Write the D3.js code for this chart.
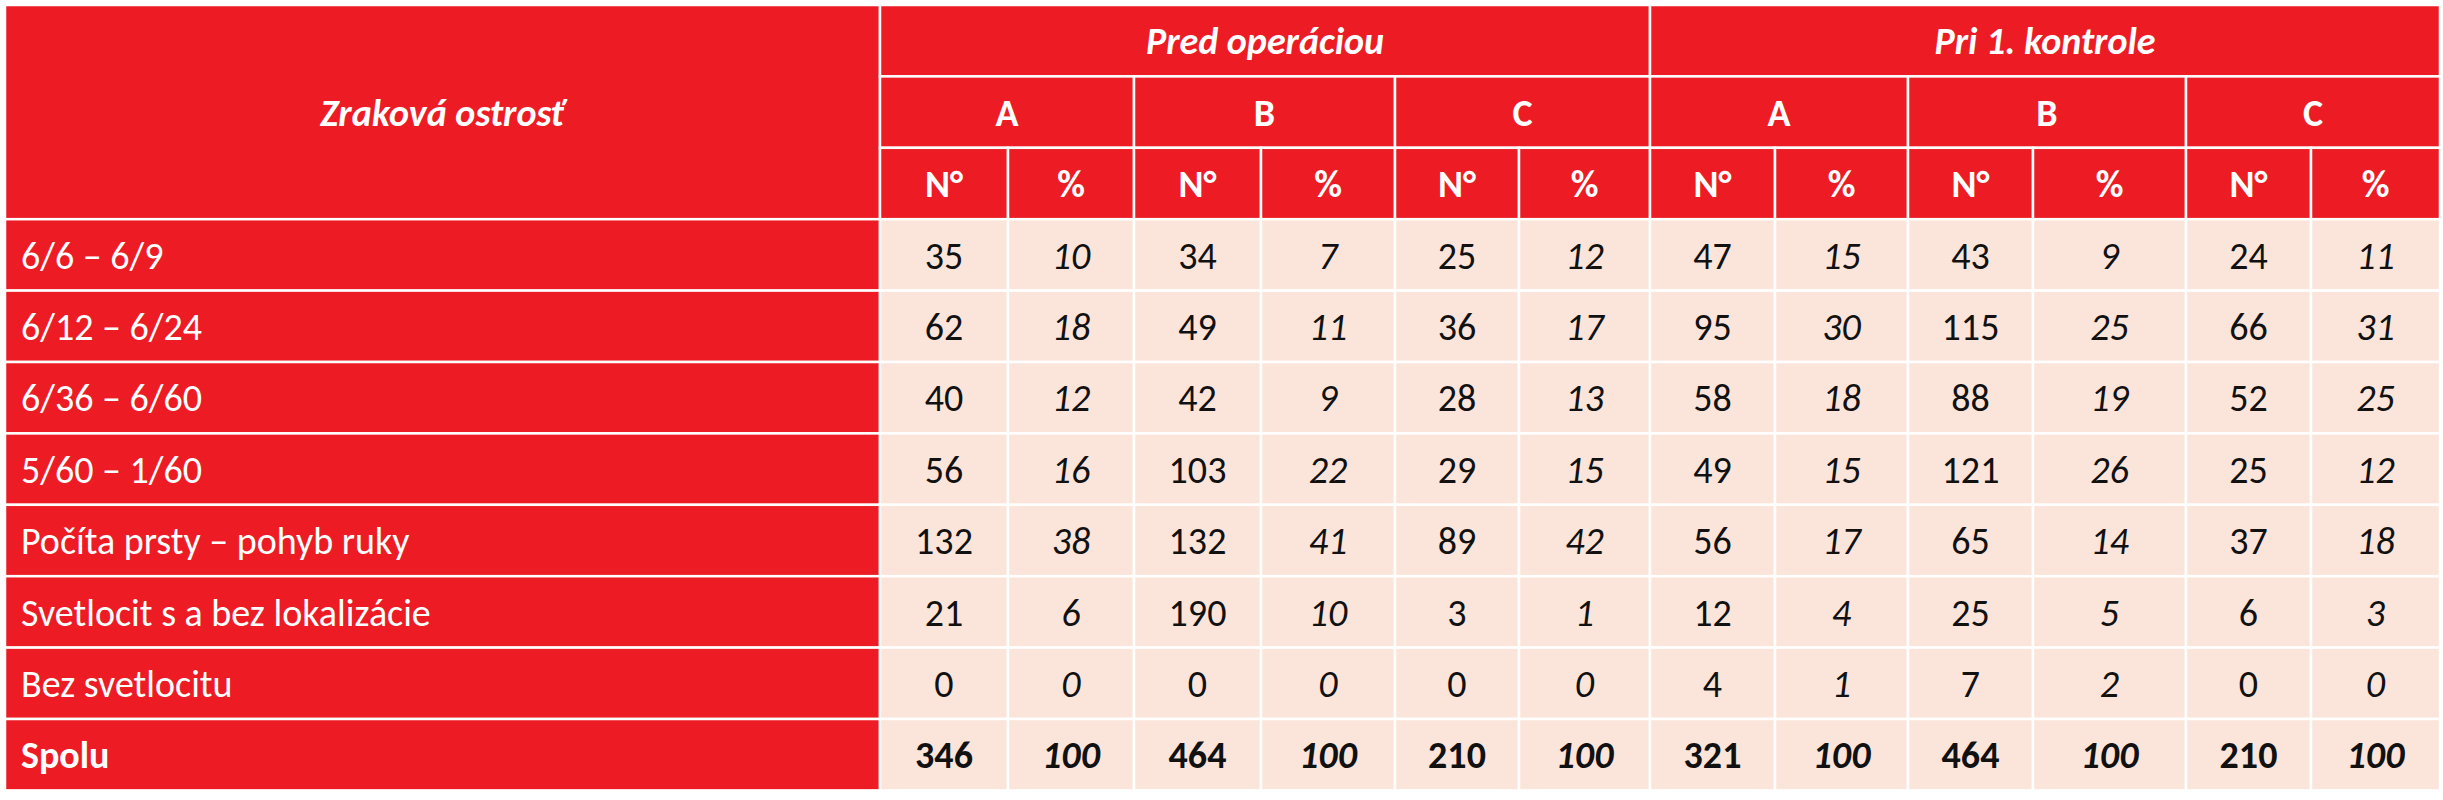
<!DOCTYPE html>
<html><head><meta charset="utf-8">
<script src="https://cdn.jsdelivr.net/npm/d3@7"></script>
<style>body{margin:0;background:#fff}</style></head>
<body><svg id="c" width="2443" height="800"></svg>
<script>
const title = "Zraková ostrosť";
const periods = ["Pred operáciou", "Pri 1. kontrole"];
const groups = ["A", "B", "C"];
const subCols = ["N°", "%"];
const rowLabels = ["6/6 – 6/9","6/12 – 6/24","6/36 – 6/60","5/60 – 1/60","Počíta prsty – pohyb ruky","Svetlocit s a bez lokalizácie","Bez svetlocitu","Spolu"];
const values = [
 [35,10,34,7,25,12,47,15,43,9,24,11],
 [62,18,49,11,36,17,95,30,115,25,66,31],
 [40,12,42,9,28,13,58,18,88,19,52,25],
 [56,16,103,22,29,15,49,15,121,26,25,12],
 [132,38,132,41,89,42,56,17,65,14,37,18],
 [21,6,190,10,3,1,12,4,25,5,6,3],
 [0,0,0,0,0,0,4,1,7,2,0,0],
 [346,100,464,100,210,100,321,100,464,100,210,100]
];
const RED="#ED1C24", PINK="#FBE5DA";
const FONT="'Liberation Sans Narrow','Carlito','Noto Sans',sans-serif";
const xb=[5,880,1008,1134,1261,1395,1519,1650,1775,1908,2033,2186,2311,2440];
const y0=5, rh=71.4;
const svg=d3.select("#c");
const yS=d3.scaleLinear().domain([0,11]).range([y0,y0+11*rh]);
function cell(x0,x1,r0,r1,fill,text,opt){
  svg.append("rect").attr("x",x0).attr("y",yS(r0)).attr("width",x1-x0).attr("height",yS(r1)-yS(r0))
    .attr("fill",fill).attr("stroke","#fff").attr("stroke-width",2.5);
  const t=svg.append("text").attr("y",(yS(r0)+yS(r1))/2).attr("dy","0.36em")
    .attr("font-family",FONT).attr("font-size",opt.size||38).attr("fill",opt.color)
    .attr("font-weight",opt.bold?"bold":"normal").attr("font-style",opt.italic?"italic":"normal").text(text);
  if(opt.left) t.attr("x",x0+16); else t.attr("x",(x0+x1)/2).attr("text-anchor","middle");
}
cell(xb[0],xb[1],0,3,RED,title,{color:"#fff",bold:true,italic:true});
periods.forEach((p,i)=>cell(xb[1+6*i],xb[7+6*i],0,1,RED,p,{color:"#fff",bold:true,italic:true}));
for(let i=0;i<6;i++) cell(xb[1+2*i],xb[3+2*i],1,2,RED,groups[i%3],{color:"#fff",bold:true});
for(let i=0;i<12;i++) cell(xb[1+i],xb[2+i],2,3,RED,subCols[i%2],{color:"#fff",bold:true});
rowLabels.forEach((l,r)=>{
  const last=r===rowLabels.length-1;
  cell(xb[0],xb[1],3+r,4+r,RED,l,{color:"#fff",left:true,bold:last});
  values[r].forEach((v,j)=>cell(xb[1+j],xb[2+j],3+r,4+r,PINK,v,{color:"#111",italic:j%2===1,bold:last}));
});
</script></body></html>
